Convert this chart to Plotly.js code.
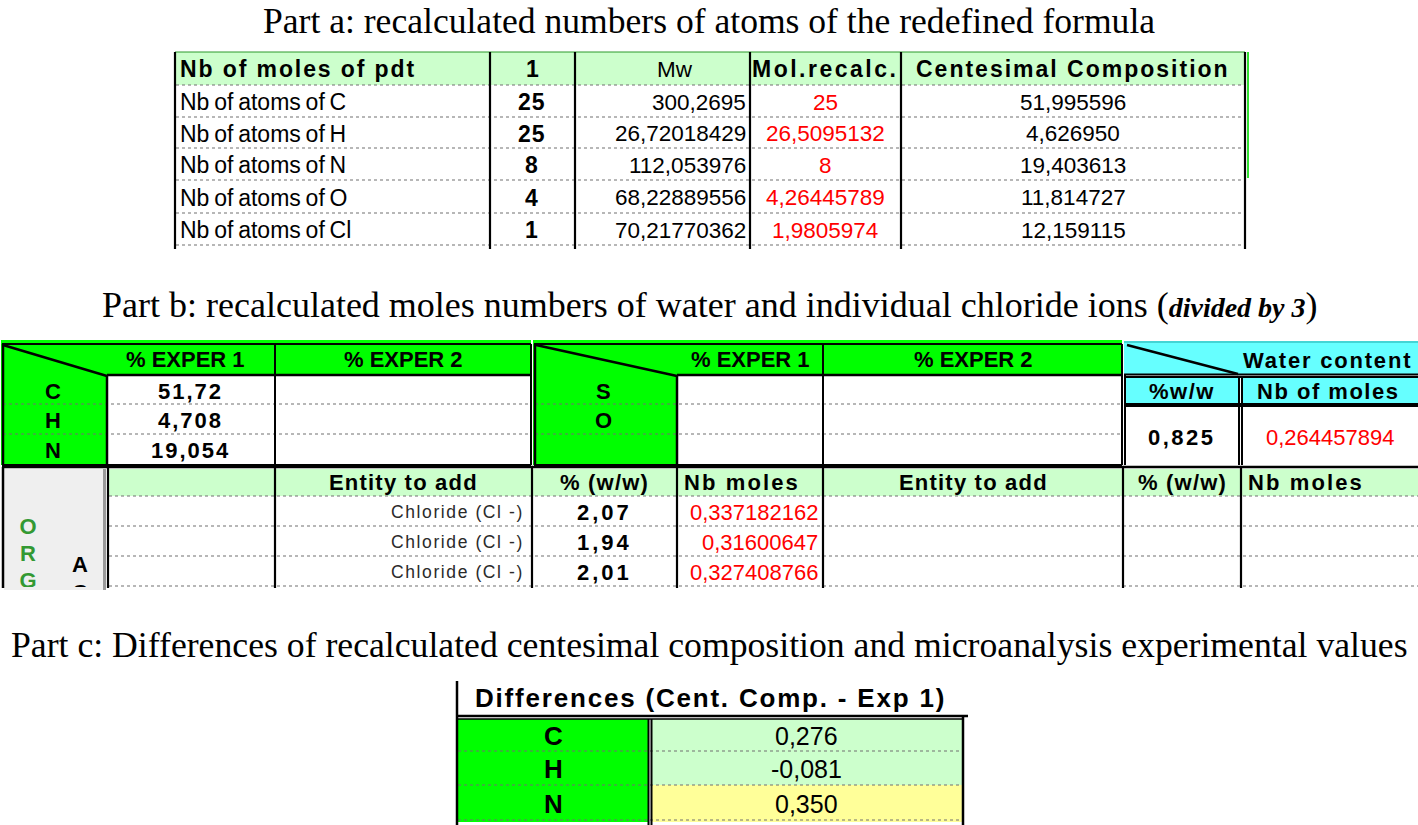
<!DOCTYPE html>
<html><head><meta charset="utf-8">
<script src="https://cdn.plot.ly/plotly-3.0.1.min.js"></script>
<style>html,body{margin:0;padding:0;background:#fff;} #chart{width:1418px;height:825px;}</style>
</head><body><div id="chart"></div>
<script>
// ---------------- DATA ----------------
const titleA = "Part a: recalculated numbers of atoms of the redefined formula";
const titleB = "Part b: recalculated moles numbers of water and individual chloride ions (";
const titleBItalic = "divided by 3";
const titleC = "Part c: Differences of recalculated centesimal composition and microanalysis experimental values";

const partAHeaders = ["Nb of moles of pdt", "1", "Mw", "Mol.recalc.", "Centesimal Composition"];
const partALabels = ["Nb of atoms of C", "Nb of atoms of H", "Nb of atoms of N", "Nb of atoms of O", "Nb of atoms of Cl"];
const partAAtoms = ["25", "25", "8", "4", "1"];
const partAMw = ["300,2695", "26,72018429", "112,053976", "68,22889556", "70,21770362"];
const partAMolRecalc = ["25", "26,5095132", "8", "4,26445789", "1,9805974"];
const partACentesimal = ["51,995596", "4,626950", "19,403613", "11,814727", "12,159115"];

const partBExperHeaders = ["% EXPER 1", "% EXPER 2"];
const partBElements1 = ["C", "H", "N"];
const partBExper1 = ["51,72", "4,708", "19,054"];
const partBElements2 = ["S", "O", ""];
const waterHeader = "Water content";
const waterColHeaders = ["%w/w", "Nb of moles"];
const waterPct = "0,825";
const waterMoles = "0,264457894";
const lowerHeaders = ["Entity to add", "% (w/w)", "Nb moles"];
const entities = ["Chloride (Cl -)", "Chloride (Cl -)", "Chloride (Cl -)"];
const chloridePct = ["2,07", "1,94", "2,01"];
const chlorideMoles = ["0,337182162", "0,31600647", "0,327408766"];
const sideLetters = ["O", "R", "G"];
const sideLetters2 = ["A", "C"];

const partCHeader = "Differences (Cent. Comp. - Exp 1)";
const partCElements = ["C", "H", "N"];
const partCValues = ["0,276", "-0,081", "0,350"];
const partCFills = ["#ccffcc", "#ccffcc", "#ffff99"];

// ---------------- HELPERS ----------------
const ARIAL = 'Arial, "Liberation Sans", sans-serif';
const TIMES = '"Times New Roman", "Liberation Serif", serif';
const GREEN = '#00ff00', LGREEN = '#ccffcc', CYAN = '#66ffff', RED = '#ff0000';
const shapes = [], ann = [];
function rect(x0, y0, x1, y1, fill) {
  shapes.push({type:'rect', xref:'x', yref:'y', x0, y0, x1, y1, fillcolor:fill, line:{width:0}, layer:'below'});
}
function line(x0, y0, x1, y1, color, w, dash) {
  shapes.push({type:'line', xref:'x', yref:'y', x0, y0, x1, y1, line:{color:color, width:w, dash:dash||'solid'}, layer:'above'});
}
function hdot(y, x0, x1) { line(x0, y, x1, y, '#707070', 1.2, 'dot'); }
function T(x, y, str, o) {
  o = o || {};
  let s = str;
  let st = '';
  if (o.ls) st += 'letter-spacing:' + o.ls + 'px;';
  if (o.ws) st += 'word-spacing:' + o.ws + 'px;';
  if (st) s = '<span style="' + st + '">' + s + '</span>';
  ann.push({x:x, y:y, xref:'x', yref:'y', text:s, showarrow:false,
    xanchor:o.anchor||'center', yanchor:'middle', borderpad:0,
    font:{family:o.family||ARIAL, size:o.size||22, color:o.color||'#000', weight:o.bold?'bold':'normal'}});
}

// ---------------- TITLES ----------------
T(709, 21, titleA, {family:TIMES, size:35.6});
T(710, 305, titleB + '<i><b><span style="font-size:28px">' + titleBItalic + '</span></b></i>)', {family:TIMES, size:36});
T(709, 645, titleC, {family:TIMES, size:35.7});

// ---------------- PART A ----------------
const aCols = [175, 490, 575, 750, 901, 1245];
const aLines = [85, 117, 148, 180, 213, 245];
rect(175, 52, 1245, 85, LGREEN);
line(175, 52, 1245, 52, '#2a9a2a', 1);
aLines.forEach(y => hdot(y, 176, 1244));
aCols.forEach(x => line(x, 52, x, 249, '#000', 2.2));
line(1248, 52, 1248, 178, '#33e033', 2);
T(179, 69, partAHeaders[0], {anchor:'left', bold:true, size:23, ls:1.9});
T(532, 69, partAHeaders[1], {bold:true, size:23});
T(675, 69, partAHeaders[2], {size:22.5});
T(825, 69, partAHeaders[3], {bold:true, size:23, ls:2.5});
T(1073, 69, partAHeaders[4], {bold:true, size:23, ls:2});
for (let i = 0; i < partALabels.length; i++) {
  const y = (aLines[i] + aLines[i+1]) / 2 + 1;
  T(179, y, partALabels[i], {anchor:'left', size:23, ws:-1.6});
  T(532, y, partAAtoms[i], {bold:true, size:23, ls:1});
  T(747, y, partAMw[i], {anchor:'right', size:22.5});
  T(825, y, partAMolRecalc[i], {color:RED, size:22.5});
  T(1073, y, partACentesimal[i], {size:22.5});
}

// ---------------- PART B (top) ----------------
const bRowLines = [376, 404, 434, 464];
rect(1, 340, 531, 465, GREEN);
rect(108, 376, 530, 464, '#ffffff');
rect(533, 340, 1122, 465, GREEN);
rect(678, 376, 1121, 464, '#ffffff');
rect(1124, 341, 1418, 375, CYAN);
rect(1125, 377, 1239, 404, CYAN);
rect(1243, 377, 1418, 404, CYAN);
[404, 434].forEach(y => { hdot(y, 3, 531); hdot(y, 535, 1122); });
line(2, 344, 531, 344, '#000', 2); line(3, 344, 3, 465, '#000', 2.5);
line(2, 465, 531, 465, '#000', 2); line(531, 344, 531, 465, '#000', 2);
line(107, 375, 531, 375, '#000', 2.5); line(107, 375, 107, 465, '#000', 2.5);
line(275, 344, 275, 465, '#000', 2);
line(3, 345, 107, 376, '#000', 2.5);
line(534, 344, 1122, 344, '#000', 2); line(535, 344, 535, 465, '#000', 2.5);
line(534, 465, 1122, 465, '#000', 2); line(1122, 344, 1122, 465, '#000', 2);
line(677, 375, 1122, 375, '#000', 2.5); line(677, 375, 677, 465, '#000', 2.5);
line(823, 344, 823, 465, '#000', 2);
line(536, 345, 677, 376, '#000', 2.5);
line(1124, 342, 1418, 342, '#2aa', 1);
line(1124, 374.5, 1418, 374.5, '#000', 2);
line(1124, 377, 1418, 377, '#000', 2); line(1124, 404, 1418, 404, '#000', 2);
line(1124, 406, 1418, 406, '#000', 2);
line(1125, 374, 1125, 465, '#000', 2); line(1239, 376, 1239, 465, '#000', 2);
line(1242, 376, 1242, 465, '#000', 2);
line(1127, 345, 1238, 374, '#000', 2.5);
T(185, 359, partBExperHeaders[0], {bold:true, size:22});
T(403, 359, partBExperHeaders[1], {bold:true, size:22});
T(750, 359, partBExperHeaders[0], {bold:true, size:22});
T(973, 359, partBExperHeaders[1], {bold:true, size:22});
for (let i = 0; i < 3; i++) {
  const y = (bRowLines[i] + bRowLines[i+1]) / 2 + 1;
  T(53, y, partBElements1[i], {bold:true, size:22});
  T(190, y, partBExper1[i], {bold:true, size:22, ls:2});
  if (partBElements2[i]) T(603, y, partBElements2[i], {bold:true, size:22});
}
T(1413, 360, waterHeader, {anchor:'right', bold:true, size:22, ls:1.8});
T(1182, 391, waterColHeaders[0], {bold:true, size:22, ls:1.5});
T(1328, 391, waterColHeaders[1], {bold:true, size:22, ls:1.5});
T(1182, 437, waterPct, {bold:true, size:22, ls:2.5});
T(1330, 437, waterMoles, {color:RED, size:22});

// ---------------- PART B (lower) ----------------
const lowerCols = [108, 275, 532, 677, 823, 1123, 1241];
const lowerLines = [496, 526, 556, 586];
rect(4, 469, 103, 590, '#efefef');
rect(103, 469, 106, 590, '#9a9a9a');
rect(109, 469, 1418, 496, LGREEN);
lowerLines.forEach(y => hdot(y, 109, 1418));
line(2, 467, 1418, 467, '#000', 2.5);
line(3, 467, 3, 588, '#000', 2.5);
lowerCols.forEach(x => line(x, 467, x, 588, '#000', 2.2));
T(403, 482, lowerHeaders[0], {bold:true, size:22, ls:1.2});
T(604, 482, lowerHeaders[1], {bold:true, size:22, ls:1.2});
T(683, 482, lowerHeaders[2], {anchor:'left', bold:true, size:22, ls:2.1});
T(973, 482, lowerHeaders[0], {bold:true, size:22, ls:1.2});
T(1182, 482, lowerHeaders[1], {bold:true, size:22, ls:1.2});
T(1247, 482, lowerHeaders[2], {anchor:'left', bold:true, size:22, ls:2.1});
for (let i = 0; i < 3; i++) {
  const y = (lowerLines[i] + lowerLines[i+1]) / 2 + 1;
  T(525, y, entities[i], {anchor:'right', size:17.5, color:'#2a2a2a', ls:1.6});
  T(604, y, chloridePct[i], {bold:true, size:22, ls:3});
  T(819, y, chlorideMoles[i], {anchor:'right', color:RED, size:22});
}

// ---------------- PART C ----------------
const cLines = [719, 751, 785, 820];
rect(458, 719, 649, 822, GREEN);
for (let i = 0; i < 3; i++) rect(651, cLines[i], 962, i < 2 ? cLines[i+1] : 822, partCFills[i]);
cLines.slice(1).forEach(y => hdot(y, 458, 962));
line(457, 681, 457, 825, '#000', 2.5);
line(457, 716, 968, 716, '#000', 2.5);
line(457, 719, 963, 719, '#000', 1.5);
line(648.5, 719, 648.5, 825, '#000', 2);
line(651.5, 719, 651.5, 825, '#000', 2);
line(963, 716, 963, 825, '#000', 2.5);
T(710, 698, partCHeader, {bold:true, size:26, ls:1.8});
for (let i = 0; i < 3; i++) {
  const y = (cLines[i] + (cLines[i+1] || 822)) / 2 + 1;
  T(553, y, partCElements[i], {bold:true, size:26});
  T(806, y, partCValues[i], {size:25});
}

// ---------------- CLIPPED SIDE LETTERS (trace) ----------------
const sideTrace = {
  type:'scatter', mode:'text', xaxis:'x2', yaxis:'y2', cliponaxis:true, hoverinfo:'skip',
  x: sideLetters.map(() => 28).concat(sideLetters2.map(() => 80)),
  y: [528, 555, 582, 566, 594],
  text: sideLetters.concat(sideLetters2),
  textposition:'middle center',
  textfont:{family:ARIAL, size:22, weight:'bold', color: sideLetters.map(() => '#339933').concat(sideLetters2.map(() => '#000'))}
};
const dummy = {type:'scatter', mode:'markers', x:[0], y:[0], marker:{opacity:0}, hoverinfo:'skip'};

const layout = {
  width:1418, height:825, margin:{l:0, r:0, t:0, b:0},
  paper_bgcolor:'#fff', plot_bgcolor:'rgba(0,0,0,0)', showlegend:false,
  xaxis:{range:[0,1418], visible:false, fixedrange:true},
  yaxis:{range:[825,0], visible:false, fixedrange:true},
  xaxis2:{range:[0,1418], domain:[0,1], visible:false, anchor:'y2', fixedrange:true},
  yaxis2:{range:[587,468], domain:[1-587/825, 1-468/825], visible:false, anchor:'x2', fixedrange:true},
  shapes:shapes, annotations:ann
};
Plotly.newPlot('chart', [dummy, sideTrace], layout, {staticPlot:true, displayModeBar:false});
</script></body></html>
